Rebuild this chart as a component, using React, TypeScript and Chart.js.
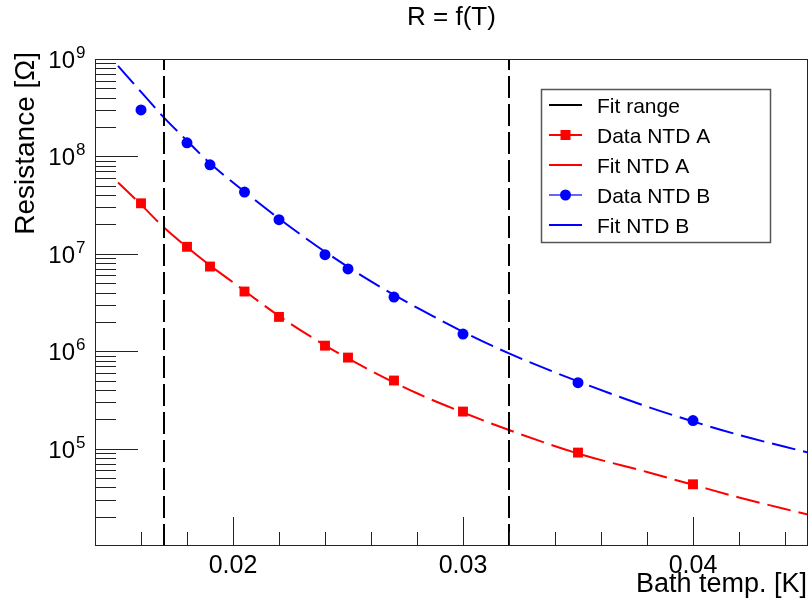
import { useEffect, useRef } from "react";
import { Chart, registerables } from "chart.js";
Chart.register(...registerables);

const FONT = '"Liberation Sans", Arial, Helvetica, sans-serif';

// ---- data ----
const dataT = [0.016, 0.018, 0.019, 0.0205, 0.022, 0.024, 0.025, 0.027, 0.03, 0.035, 0.04];
const dataA = [3.3e7, 1.18e7, 7.4e6, 4.1e6, 2.25e6, 1.14e6, 8.6e5, 5.0e5, 2.4e5, 9.1e4, 4.3e4];
const dataB = [3.0e8, 1.38e8, 8.2e7, 4.3e7, 2.24e7, 9.8e6, 7.0e6, 3.6e6, 1.5e6, 4.75e5, 1.94e5];

const fitT = [0.015, 0.016, 0.017, 0.018, 0.019, 0.02, 0.022, 0.024, 0.026, 0.028, 0.03, 0.032, 0.035, 0.038, 0.04, 0.042, 0.045];
const fitA = [5.4e7, 3.2e7, 1.86e7, 1.17e7, 7.6e6, 5.1e6, 2.3e6, 1.15e6, 6.3e5, 3.7e5, 2.35e5, 1.55e5, 8.9e4, 5.75e4, 4.25e4, 3.15e4, 2.1e4];
const fitB = [8.5e8, 4.6e8, 2.5e8, 1.45e8, 8.5e7, 5.4e7, 2.3e7, 1.05e7, 5.2e6, 2.8e6, 1.58e6, 9.5e5, 4.9e5, 2.7e5, 1.9e5, 1.38e5, 9.1e4];

const fitRange = [0.017, 0.032];

const xMin = 0.014;
const xMax = 0.045;
const yMin = 1e4;
const yMax = 1e9;

const xMajorTicks = [0.02, 0.03, 0.04];
const xTickLabels = ["0.02", "0.03", "0.04"];
const xMinorTicks = [0.016, 0.018, 0.022, 0.024, 0.026, 0.028, 0.032, 0.034, 0.036, 0.038, 0.042, 0.044];
const yExponents = [5, 6, 7, 8, 9];
const yDecades = [4, 5, 6, 7, 8];

const title = "R = f(T)";
const xTitle = "Bath temp. [K]";
const yTitle = "Resistance [Ω]";
const legendLabels = ["Fit range", "Data NTD A", "Fit NTD A", "Data NTD B", "Fit NTD B"];

const RED = "#ff0000";
const BLUE = "#0000ff";

const pts = (xs: number[], ys: number[]) => xs.map((x, i) => ({ x, y: ys[i] }));

const decor = {
  id: "decor",
  afterDraw(chart: any) {
    const ctx: CanvasRenderingContext2D = chart.ctx;
    const { left, right, top, bottom } = chart.chartArea;
    const xs = chart.scales.x;
    const ys = chart.scales.y;
    ctx.save();
    ctx.strokeStyle = "#222";
    ctx.lineWidth = 1;
    // frame
    ctx.strokeRect(left + 0.5, top + 0.5, right - left - 1, bottom - top - 1);
    // x ticks
    ctx.beginPath();
    for (const v of xMajorTicks) {
      const px = Math.round(xs.getPixelForValue(v)) + 0.5;
      ctx.moveTo(px, bottom);
      ctx.lineTo(px, bottom - 29);
    }
    for (const v of xMinorTicks) {
      const px = Math.round(xs.getPixelForValue(v)) + 0.5;
      ctx.moveTo(px, bottom);
      ctx.lineTo(px, bottom - 14);
    }
    // y ticks
    for (const e of yDecades) {
      for (let k = 1; k <= 9; k++) {
        const v = k * Math.pow(10, e);
        if (v <= yMin || v >= yMax) continue;
        const py = Math.round(ys.getPixelForValue(v)) + 0.5;
        ctx.moveTo(left, py);
        ctx.lineTo(left + (k === 1 ? 43 : 21), py);
      }
    }
    ctx.stroke();

    ctx.fillStyle = "#000";
    // x labels
    ctx.font = `25px ${FONT}`;
    ctx.textAlign = "center";
    ctx.textBaseline = "alphabetic";
    xMajorTicks.forEach((v, i) => {
      ctx.fillText(xTickLabels[i], xs.getPixelForValue(v), 573);
    });
    // y labels
    for (const e of yExponents) {
      const py = ys.getPixelForValue(Math.pow(10, e));
      ctx.font = `24px ${FONT}`;
      ctx.textAlign = "right";
      ctx.fillText("10", 75, py + 9);
      ctx.font = `17px ${FONT}`;
      ctx.textAlign = "left";
      ctx.fillText(String(e), 76, py - 1);
    }
    // title
    ctx.font = `26px ${FONT}`;
    ctx.textAlign = "center";
    ctx.fillText(title, (left + right) / 2, 25);
    // axis titles
    ctx.font = `27px ${FONT}`;
    ctx.textAlign = "right";
    ctx.fillText(xTitle, 807, 592);
    ctx.save();
    ctx.translate(34, 52);
    ctx.rotate(-Math.PI / 2);
    ctx.textAlign = "right";
    ctx.font = `28px ${FONT}`;
    ctx.fillText(yTitle, 0, 0);
    ctx.restore();

    // legend
    const lx = 541, ly = 89, lw = 229, lh = 153;
    ctx.fillStyle = "#fff";
    ctx.fillRect(lx, ly, lw, lh);
    ctx.strokeStyle = "#555";
    ctx.lineWidth = 1.5;
    ctx.strokeRect(lx + 0.5, ly + 0.5, lw, lh);
    const colors = ["#000", RED, RED, "#6666ff", BLUE];
    legendLabels.forEach((lab, i) => {
      const cy = 105 + i * 30;
      ctx.strokeStyle = colors[i];
      ctx.lineWidth = 2;
      ctx.setLineDash([]);
      ctx.beginPath();
      ctx.moveTo(549, cy);
      ctx.lineTo(582, cy);
      ctx.stroke();
      if (i === 1) {
        ctx.fillStyle = RED;
        ctx.fillRect(565.5 - 5, cy - 5, 10, 10);
      }
      if (i === 3) {
        ctx.fillStyle = BLUE;
        ctx.beginPath();
        ctx.arc(565.5, cy, 5.5, 0, Math.PI * 2);
        ctx.fill();
      }
      ctx.fillStyle = "#000";
      ctx.font = `21px ${FONT}`;
      ctx.textAlign = "left";
      ctx.fillText(lab, 597, cy + 7.5);
    });
    ctx.restore();
  },
};

export default function App() {
  const ref = useRef<HTMLCanvasElement>(null);
  useEffect(() => {
    const canvas = ref.current!;
    const chart = new Chart(canvas, {
      type: "scatter",
      data: {
        datasets: [
          ...fitRange.map((t) => ({
            label: "Fit range",
            data: [{ x: t, y: yMin }, { x: t, y: yMax }],
            showLine: true,
            borderColor: "#000",
            borderWidth: 2,
            borderDash: [22, 6],
            pointRadius: 0,
          })),
          {
            label: "Fit NTD A",
            data: pts(fitT, fitA),
            showLine: true,
            borderColor: RED,
            borderWidth: 2,
            borderDash: [24, 8],
            pointRadius: 0,
            cubicInterpolationMode: "monotone",
          },
          {
            label: "Fit NTD B",
            data: pts(fitT, fitB),
            showLine: true,
            borderColor: BLUE,
            borderWidth: 2,
            borderDash: [24, 8],
            pointRadius: 0,
            cubicInterpolationMode: "monotone",
          },
          {
            label: "Data NTD A",
            data: pts(dataT, dataA),
            showLine: false,
            pointStyle: "rect",
            pointRadius: 7,
            backgroundColor: RED,
            borderColor: RED,
            borderWidth: 0,
          },
          {
            label: "Data NTD B",
            data: pts(dataT, dataB),
            showLine: false,
            pointStyle: "circle",
            pointRadius: 5.5,
            backgroundColor: BLUE,
            borderColor: BLUE,
            borderWidth: 0,
          },
        ],
      },
      options: {
        animation: false,
        responsive: false,
        devicePixelRatio: 1,
        layout: { autoPadding: false, padding: { left: 95, right: 2, top: 59, bottom: 60 } },
        plugins: { legend: { display: false }, tooltip: { enabled: false }, title: { display: false } },
        scales: {
          x: { type: "linear", min: xMin, max: xMax, display: false },
          y: { type: "logarithmic", min: yMin, max: yMax, display: false },
        },
      } as any,
      plugins: [decor],
    } as any);
    return () => chart.destroy();
  }, []);
  return (
    <div style={{ position: "absolute", left: 0, top: 0, width: 810, height: 606, background: "#fff" }}>
      <canvas ref={ref} width={810} height={606} style={{ display: "block", width: 810, height: 606 }} />
    </div>
  );
}
